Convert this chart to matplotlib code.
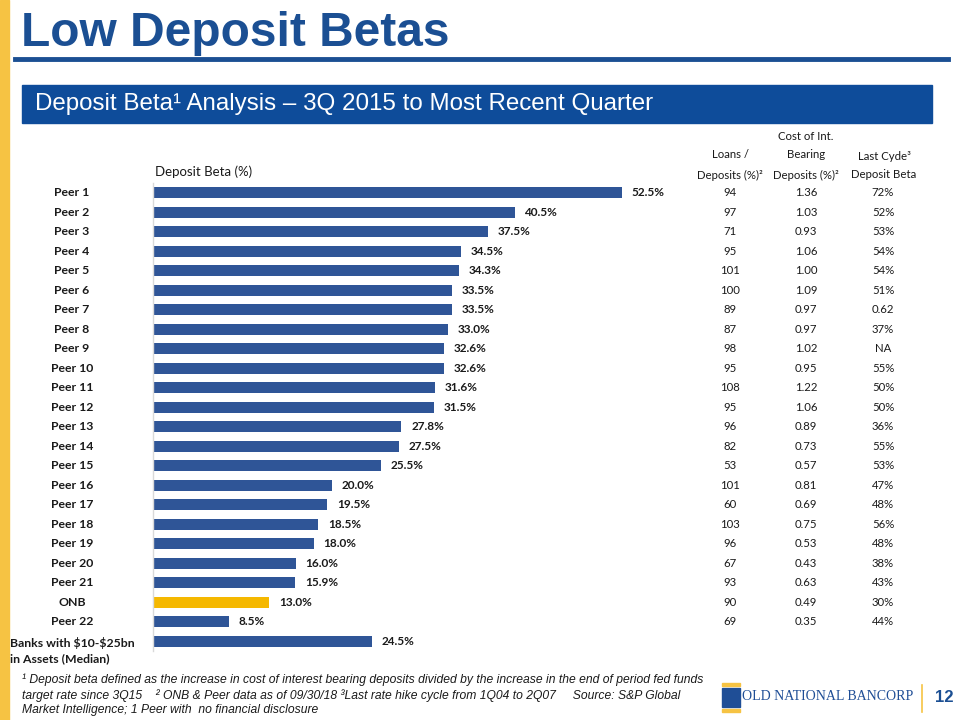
import matplotlib.pyplot as plt
from matplotlib.transforms import blended_transform_factory
from matplotlib.patches import Rectangle
from matplotlib.lines import Line2D

# data
names = ['Peer 1', 'Peer 2', 'Peer 3', 'Peer 4', 'Peer 5', 'Peer 6', 'Peer 7', 'Peer 8',
         'Peer 9', 'Peer 10', 'Peer 11', 'Peer 12', 'Peer 13', 'Peer 14', 'Peer 15',
         'Peer 16', 'Peer 17', 'Peer 18', 'Peer 19', 'Peer 20', 'Peer 21', 'ONB', 'Peer 22',
         'Banks with \\$10-\\$25bn\nin Assets (Median)']
beta = [52.5, 40.5, 37.5, 34.5, 34.3, 33.5, 33.5, 33.0, 32.6, 32.6, 31.6, 31.5, 27.8,
        27.5, 25.5, 20.0, 19.5, 18.5, 18.0, 16.0, 15.9, 13.0, 8.5, 24.5]
loans_dep = ['94', '97', '71', '95', '101', '100', '89', '87', '98', '95', '108', '95', '96',
             '82', '53', '101', '60', '103', '96', '67', '93', '90', '69']
cost_ibd = ['1.36', '1.03', '0.93', '1.06', '1.00', '1.09', '0.97', '0.97', '1.02', '0.95',
            '1.22', '1.06', '0.89', '0.73', '0.57', '0.81', '0.69', '0.75', '0.53', '0.43',
            '0.63', '0.49', '0.35']
last_cycle = ['72%', '52%', '53%', '54%', '54%', '51%', '0.62', '37%', 'NA', '55%', '50%',
              '50%', '36%', '55%', '53%', '47%', '48%', '56%', '48%', '38%', '43%', '30%', '44%']

navy = '#1b4f93'
bar_blue = '#2f5597'
gold = '#f5b800'
txt = '#1a1a1a'
body = ['Lato', 'DejaVu Sans']
sans = ['Liberation Sans', 'DejaVu Sans']

fig = plt.figure(figsize=(9.6, 7.2), dpi=100)
W, H = 960, 720

def fx(px):
    return px / W

def fy(py):
    return 1 - py / H

# left stripe
fig.patches.append(Rectangle((0, 0), fx(9), 1, transform=fig.transFigure,
                             color='#f6c343', zorder=0))
# title + underline
fig.text(fx(21), fy(34), 'Low Deposit Betas', fontsize=34.5, fontweight='bold',
         color=navy, family=sans, va='center', ha='left')
fig.lines.append(Line2D([fx(15), fx(948)], [fy(59), fy(59)], transform=fig.transFigure,
                        color=navy, lw=3.5))
# banner
fig.patches.append(Rectangle((fx(22), fy(123)), fx(910), 38 / H, transform=fig.transFigure,
                             color='#0e4c9a', zorder=0))
fig.text(fx(35), fy(104), 'Deposit Beta\u00b9 Analysis \u2013 3Q 2015 to Most Recent Quarter',
         fontsize=17.4, color='white', family=sans, va='center', ha='left')

# bar chart
ax = fig.add_axes([fx(153), fy(651), fx(527), 468 / H])
n = len(beta)
y = list(range(n))
colors = [gold if nm == 'ONB' else bar_blue for nm in names]
ax.barh(y, beta, height=0.58, color=colors)
ax.set_xlim(0, 527 / 8.93)
ax.set_ylim(n - 0.5, -0.5)
ax.set_xticks([])
ax.set_yticks([])
for s in ['top', 'right', 'bottom']:
    ax.spines[s].set_visible(False)
ax.spines['left'].set_color('#d9d9d9')
ax.spines['left'].set_linewidth(1)
ax.patch.set_alpha(0)

for i, v in enumerate(beta):
    ax.text(v + 1.1, i, f'{v:.1f}%', fontsize=8.5, fontweight='bold', color=txt,
            family=body, va='center', ha='left')

tr = blended_transform_factory(fig.transFigure, ax.transData)
for i, nm in enumerate(names):
    if '\n' in nm:
        ax.text(fx(10), i + 0.47, nm, transform=tr, fontsize=8.8, fontweight='bold',
                color=txt, family=body, va='center', ha='left', linespacing=1.45)
    else:
        ax.text(fx(72), i, nm, transform=tr, fontsize=8.8, fontweight='bold',
                color=txt, family=body, va='center', ha='center')

fig.text(fx(155), fy(172), 'Deposit Beta (%)', fontsize=9.5, color=txt, family=body,
         va='center', ha='left')

# table
col_x = [730, 806, 883]
for i in range(len(loans_dep)):
    for cx, col in zip(col_x, [loans_dep, cost_ibd, last_cycle]):
        ax.text(fx(cx), i, col[i], transform=tr, fontsize=8.2, color=txt, family=body,
                va='center', ha='center')

hdr = dict(fontsize=8.2, color=txt, family=body, va='center', ha='center')
fig.text(fx(730), fy(155), 'Loans /', **hdr)
fig.text(fx(730), fy(175), 'Deposits (%)\u00b2', **hdr)
fig.text(fx(806), fy(136), 'Cost of Int.', **hdr)
fig.text(fx(806), fy(155), 'Bearing', **hdr)
fig.text(fx(806), fy(175), 'Deposits (%)\u00b2', **hdr)
fig.text(fx(884), fy(156), 'Last Cyde\u00b3', **hdr)
fig.text(fx(884), fy(175), 'Deposit Beta', **hdr)

# footnote
foot = ('\u00b9 Deposit beta defined as the increase in cost of interest bearing deposits divided by the increase in the end of period fed funds\n'
        'target rate since 3Q15    \u00b2 ONB & Peer data as of 09/30/18 \u00b3Last rate hike cycle from 1Q04 to 2Q07     Source: S&P Global\n'
        'Market Intelligence; 1 Peer with  no financial disclosure')
fig.text(fx(22), fy(695), foot, fontsize=8.7, style='italic', color=txt, family=sans,
         va='center', ha='left', linespacing=1.25)

# logo
fig.patches.append(Rectangle((fx(722), fy(707)), fx(18), 19 / H, transform=fig.transFigure,
                             color='#1f4e96'))
fig.patches.append(Rectangle((fx(722), fy(686)), fx(18), 3 / H, transform=fig.transFigure,
                             color='#f6c343'))
fig.patches.append(Rectangle((fx(722), fy(712)), fx(18), 3 / H, transform=fig.transFigure,
                             color='#f6c343'))
fig.text(fx(742), fy(697), 'OLD NATIONAL BANCORP', fontsize=10, color='#1f4e96',
         family=['Liberation Serif', 'DejaVu Serif'], va='center', ha='left')
fig.lines.append(Line2D([fx(922), fx(922)], [fy(685), fy(712)], transform=fig.transFigure,
                        color='#f6c343', lw=1.2))
fig.text(fx(935), fy(698), '12', fontsize=12, fontweight='bold', color=navy,
         family=sans, va='center', ha='left')

fig.savefig('out.png', dpi=100)
